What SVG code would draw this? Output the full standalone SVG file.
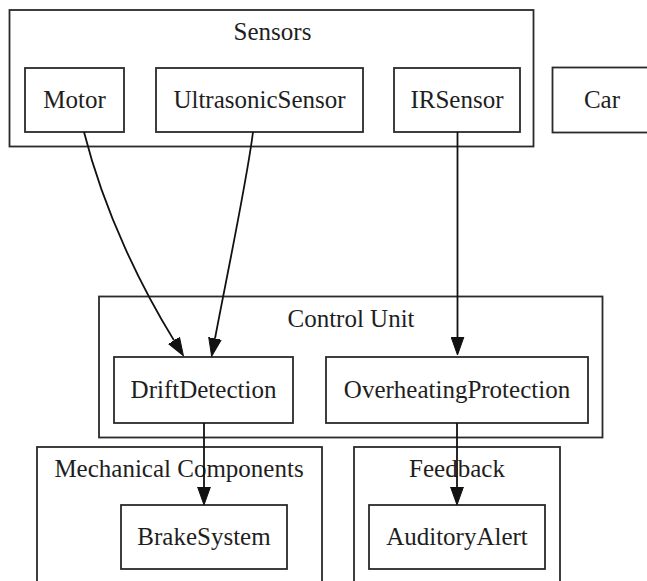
<svg xmlns="http://www.w3.org/2000/svg" width="647" height="581" viewBox="0 0 647 581">
  <style>
    .cluster { fill: none; stroke: #2a2a2a; stroke-width: 1.8; }
    .node rect { fill: #ffffff; stroke: #2a2a2a; stroke-width: 1.8; }
    text { font-family: "Liberation Serif", "Times New Roman", serif; font-size: 25px; fill: #1e1e1e; text-anchor: middle; }
    .edge { fill: none; stroke: #111; stroke-width: 1.8; }
  </style>
  <defs>
    <marker id="ah" markerUnits="userSpaceOnUse" markerWidth="20" markerHeight="14" viewBox="0 -7 20 14" refX="0" refY="0" orient="auto">
      <path d="M0,-6.4 L18,0 L0,6.4 Z" fill="#111" stroke="#111" stroke-width="1"/>
    </marker>
  </defs>
  <rect width="647" height="581" fill="#ffffff"/>

  <g id="cluster-sensors">
    <rect class="cluster" x="9.5" y="10" width="524" height="136.5"/>
    <text x="272.5" y="39.5">Sensors</text>
  </g>
  <g id="cluster-control-unit">
    <rect class="cluster" x="99" y="296.5" width="503.5" height="141"/>
    <text x="351" y="326.5">Control Unit</text>
  </g>
  <g id="cluster-mechanical">
    <rect class="cluster" x="37" y="447" width="285" height="160"/>
    <text x="179" y="477">Mechanical Components</text>
  </g>
  <g id="cluster-feedback">
    <rect class="cluster" x="354" y="447" width="206" height="160"/>
    <text x="457" y="477">Feedback</text>
  </g>

  <g id="node-motor" class="node">
    <rect x="25" y="68" width="99" height="64"/>
    <text x="74.5" y="108">Motor</text>
  </g>
  <g id="node-ultrasonic" class="node">
    <rect x="156" y="68" width="207" height="64"/>
    <text x="259.5" y="108">UltrasonicSensor</text>
  </g>
  <g id="node-irsensor" class="node">
    <rect x="394" y="68" width="126" height="64"/>
    <text x="457" y="108">IRSensor</text>
  </g>
  <g id="node-car" class="node">
    <rect x="552.5" y="67.5" width="99" height="65"/>
    <text x="602" y="108">Car</text>
  </g>
  <g id="node-drift" class="node">
    <rect x="114" y="357" width="179" height="66"/>
    <text x="203.5" y="398">DriftDetection</text>
  </g>
  <g id="node-overheating" class="node">
    <rect x="326" y="357" width="262" height="66"/>
    <text x="457" y="398">OverheatingProtection</text>
  </g>
  <g id="node-brake" class="node">
    <rect x="121" y="505" width="166" height="64"/>
    <text x="204" y="545">BrakeSystem</text>
  </g>
  <g id="node-auditory" class="node">
    <rect x="369" y="505" width="176" height="64"/>
    <text x="457" y="545">AuditoryAlert</text>
  </g>

  <g id="connectors">
    <path class="edge" d="M84,132 C105,215 143,290 174,340.4" marker-end="url(#ah)"/>
    <path class="edge" d="M253,132 C247,180 228,270 215,338.5" marker-end="url(#ah)"/>
    <path class="edge" d="M457.5,132 L457.5,337" marker-end="url(#ah)"/>
    <path class="edge" d="M204,423 L204,487" marker-end="url(#ah)"/>
    <path class="edge" d="M457,423 L457,487" marker-end="url(#ah)"/>
  </g>
</svg>
